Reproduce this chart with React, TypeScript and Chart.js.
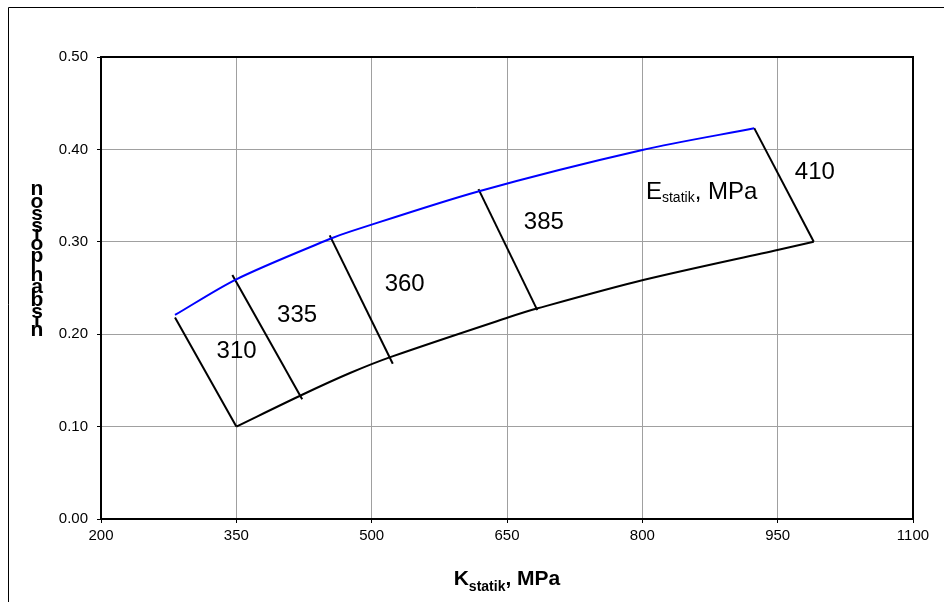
import React, { useEffect, useRef } from 'react';
import { Chart, registerables } from 'chart.js';

Chart.register(...registerables);

// Upper (blue) boundary curve: K_statik (MPa) vs Poisson ratio
const upperK = [282, 350, 453.5, 476, 618, 800, 924];
const upperNu = [0.2208, 0.2594, 0.303, 0.311, 0.3545, 0.3994, 0.4228];

// Lower (black) boundary curve
const lowerK = [350, 423, 476, 523, 651, 684, 801, 951, 990];
const lowerNu = [0.1, 0.1345, 0.158, 0.176, 0.218, 0.228, 0.2587, 0.2915, 0.3];

// E_statik iso-lines
const eValues = ['310', '335', '360', '385', '410'];
const eTopK = [282, 345.6, 453.5, 618.4, 924];
const eTopNu = [0.218, 0.264, 0.307, 0.357, 0.423];
const eBotK = [350, 423, 523.4, 683.6, 990];
const eBotNu = [0.1, 0.1296, 0.168, 0.226, 0.3];
const eLabelK = [350.3, 417.4, 536.6, 690.8, 991.2];
const eLabelNu = [0.181, 0.2205, 0.2536, 0.3206, 0.3747];

// "E_statik, MPa" annotation anchor (left, baseline)
const eTitleK = 804;
const eTitleNu = 0.3463;

const xMin = 200;
const xMax = 1100;
const xStep = 150;
const yMin = 0;
const yMax = 0.5;
const yStep = 0.1;

const yTitle = 'nisbah poisson';
const xTitleMain = 'K';
const xTitleSub = 'statik';
const xTitleRest = ', MPa';
const eTitleMain = 'E';
const eTitleSub = 'statik';
const eTitleRest = ', MPa';

const FONT = '"Liberation Sans", Arial, sans-serif';

const decorPlugin = {
  id: 'decor',
  afterDraw(chart: any) {
    const ctx = chart.ctx as CanvasRenderingContext2D;
    const area = chart.chartArea;
    const xs = chart.scales.x;
    const ys = chart.scales.y;
    ctx.save();

    // outer frame (top and left)
    ctx.strokeStyle = '#000';
    ctx.lineWidth = 1;
    ctx.beginPath();
    ctx.moveTo(8.5, chart.height);
    ctx.lineTo(8.5, 7.5);
    ctx.lineTo(chart.width, 7.5);
    ctx.stroke();

    // top & right plot border
    ctx.lineWidth = 2;
    ctx.beginPath();
    ctx.moveTo(area.left, area.top);
    ctx.lineTo(area.right, area.top);
    ctx.lineTo(area.right, area.bottom);
    ctx.stroke();

    // E value labels
    ctx.fillStyle = '#000';
    ctx.font = `24px ${FONT}`;
    ctx.textAlign = 'center';
    ctx.textBaseline = 'middle';
    eValues.forEach((v, i) => {
      ctx.fillText(v, xs.getPixelForValue(eLabelK[i]), ys.getPixelForValue(eLabelNu[i]));
    });

    // E_statik, MPa annotation
    ctx.textAlign = 'left';
    ctx.textBaseline = 'alphabetic';
    let px = xs.getPixelForValue(eTitleK);
    const py = ys.getPixelForValue(eTitleNu);
    ctx.font = `24px ${FONT}`;
    ctx.fillText(eTitleMain, px, py);
    px += ctx.measureText(eTitleMain).width;
    ctx.font = `14px ${FONT}`;
    ctx.fillText(eTitleSub, px, py + 3);
    px += ctx.measureText(eTitleSub).width;
    ctx.font = `24px ${FONT}`;
    ctx.fillText(eTitleRest, px, py);

    // X axis title with subscript
    const mainFont = `bold 21px ${FONT}`;
    const subFont = `bold 14px ${FONT}`;
    ctx.font = mainFont;
    const w1 = ctx.measureText(xTitleMain).width;
    const w3 = ctx.measureText(xTitleRest).width;
    ctx.font = subFont;
    const w2 = ctx.measureText(xTitleSub).width;
    const total = w1 + w2 + w3;
    let tx = (area.left + area.right) / 2 - total / 2;
    const ty = area.bottom + 66;
    ctx.font = mainFont;
    ctx.fillText(xTitleMain, tx, ty);
    tx += w1;
    ctx.font = subFont;
    ctx.fillText(xTitleSub, tx, ty + 6);
    tx += w2;
    ctx.font = mainFont;
    ctx.fillText(xTitleRest, tx, ty);

    // Y axis title: stacked glyphs (bottom-to-top reading)
    ctx.font = `bold 21px ${FONT}`;
    ctx.textAlign = 'center';
    const chars = yTitle.split('');
    const widths = chars.map((c) => ctx.measureText(c).width);
    let by = area.top + 279;
    const cx = 37;
    chars.forEach((c, i) => {
      if (i > 0) by -= (widths[i - 1] + widths[i]) / 2;
      if (c !== ' ') ctx.fillText(c, cx, by);
    });

    ctx.restore();
  },
};

export default function App() {
  const canvasRef = useRef<HTMLCanvasElement | null>(null);

  useEffect(() => {
    document.body.style.margin = '0';
    const canvas = canvasRef.current;
    if (!canvas) return;

    const upper = upperK.map((k, i) => ({ x: k, y: upperNu[i] }));
    const lower = lowerK.map((k, i) => ({ x: k, y: lowerNu[i] }));
    const isoLines = eValues.map((v, i) => ({
      label: `E ${v}`,
      data: [
        { x: eTopK[i], y: eTopNu[i] },
        { x: eBotK[i], y: eBotNu[i] },
      ],
      borderColor: '#000000',
      borderWidth: 2,
      pointRadius: 0,
      showLine: true,
      tension: 0,
    }));

    const chart = new Chart(canvas, {
      type: 'scatter',
      data: {
        datasets: [
          {
            label: 'upper',
            data: upper,
            borderColor: '#0000ff',
            borderWidth: 2,
            pointRadius: 0,
            showLine: true,
            tension: 0.3,
          },
          {
            label: 'lower',
            data: lower,
            borderColor: '#000000',
            borderWidth: 2,
            pointRadius: 0,
            showLine: true,
            tension: 0.3,
          },
          ...isoLines,
        ],
      },
      options: {
        responsive: false,
        animation: false,
        events: [],
        layout: { padding: { top: 57, right: 31, bottom: 0, left: 0 } },
        plugins: {
          legend: { display: false },
          tooltip: { enabled: false },
          title: { display: false },
        },
        scales: {
          x: {
            type: 'linear',
            min: xMin,
            max: xMax,
            afterFit: (s: any) => {
              s.height = 83;
            },
            ticks: {
              stepSize: xStep,
              color: '#000',
              font: { family: FONT, size: 15 },
              padding: 4,
              maxRotation: 0,
              callback: (v: any) => String(v),
            },
            grid: { color: '#a0a0a0', lineWidth: 1, tickLength: 4, tickColor: '#000' },
            border: { color: '#000', width: 2 },
          },
          y: {
            type: 'linear',
            min: yMin,
            max: yMax,
            afterFit: (s: any) => {
              s.width = 101;
            },
            ticks: {
              stepSize: yStep,
              color: '#000',
              font: { family: FONT, size: 15 },
              padding: 9,
              callback: (v: any) => Number(v).toFixed(2),
            },
            grid: { color: '#a0a0a0', lineWidth: 1, tickLength: 4, tickColor: '#000' },
            border: { color: '#000', width: 2 },
          },
        },
      },
      plugins: [decorPlugin],
    } as any);

    return () => chart.destroy();
  }, []);

  return (
    <div style={{ position: 'absolute', left: 0, top: 0, width: 944, height: 602, background: '#fff' }}>
      <canvas ref={canvasRef} width={944} height={602} style={{ display: 'block', width: 944, height: 602 }} />
    </div>
  );
}
